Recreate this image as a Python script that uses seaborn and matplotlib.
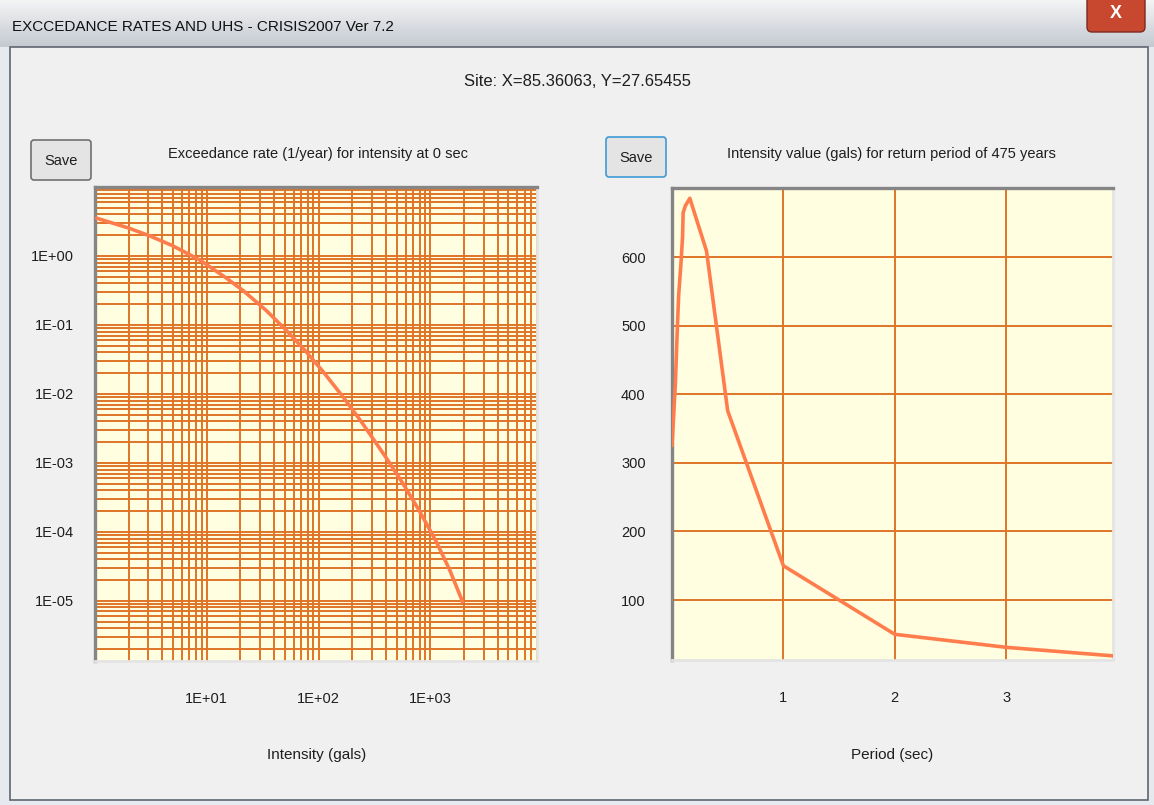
import matplotlib
matplotlib.use("Agg")
import matplotlib.pyplot as plt
import numpy as np
import seaborn as sns
from matplotlib.colors import LinearSegmentedColormap
from matplotlib.patches import FancyBboxPatch, Rectangle
from matplotlib.ticker import FixedLocator, LogLocator, NullFormatter

W, H = 1154, 805

# texts
window_title = "EXCCEDANCE RATES AND UHS - CRISIS2007 Ver 7.2"
site_text = "Site: X=85.36063, Y=27.65455"
rate_title = "Exceedance rate (1/year) for intensity at 0 sec"
uhs_title = "Intensity value (gals) for return period of 475 years"
rate_xlabel = "Intensity (gals)"
uhs_xlabel = "Period (sec)"
button_text = "Save"

# hazard curve at T = 0 sec
intensity = [1.035, 2.0, 3.1, 4.94, 8.66, 14.6, 21.1, 33.9, 51.5, 77.0, 109.5,
             165.0, 245.0, 402.0, 568.0, 793.0, 1118.0, 1490.0, 1942.0]
exc_rate = [3.53, 2.54, 1.95, 1.41, 0.875, 0.492, 0.316, 0.163, 0.0834, 0.0413,
            0.0211, 0.00912, 0.00382, 0.00119, 5.03e-4, 2.05e-4, 7.45e-5, 2.8e-5, 9.7e-6]

# uniform hazard spectrum, 475 years
period = [0.0, 0.015, 0.03, 0.04, 0.05, 0.06, 0.08, 0.095, 0.10, 0.12, 0.16,
          0.31, 0.50, 1.0, 2.0, 3.0, 4.0]
sa_gals = [325, 370, 415, 460, 505, 545, 590, 630, 665, 675, 686,
           609, 376, 150, 50, 31, 18]

# ticks
rate_xticks = [1, 10, 100, 1000]
rate_xticklabels = ["", "1E+01", "1E+02", "1E+03"]
rate_yticks = [10, 1, 0.1, 0.01, 1e-3, 1e-4, 1e-5, 1e-6]
rate_yticklabels = ["", "1E+00", "1E-01", "1E-02", "1E-03", "1E-04", "1E-05", ""]
uhs_xticks = [1, 2, 3]
uhs_yticks = [100, 200, 300, 400, 500, 600]

sns.set_theme(style="white")
plt.rcParams["font.family"] = ["Liberation Sans", "DejaVu Sans"]

grid_color = "#DF7428"
curve_color = "#FF7D4D"
plot_bg = "#FFFEE0"
txt = "#1E1E1E"

fig = plt.figure(figsize=(W / 100, H / 100), dpi=100)
fig.patch.set_facecolor("#E6E9EE")

# window chrome, pixel coordinates
bg = fig.add_axes([0, 0, 1, 1])
bg.set_zorder(-5)
bg.axis("off")
bar = LinearSegmentedColormap.from_list("bar", ["#F4F4F4", "#DCDFE3", "#C4CAD2"])
bg.imshow(np.linspace(0, 1, 60).reshape(-1, 1), extent=[0, W, 47, 0],
          cmap=bar, aspect="auto")
bg.set_xlim(0, W)
bg.set_ylim(H, 0)
bg.add_patch(Rectangle((10, 47), 1138, 753, facecolor="#F0F0F0",
                       edgecolor="#5F6670", lw=1.2))
bg.text(12, 27, window_title, fontsize=11, color="#111111",
        va="center", ha="left")
bg.add_patch(FancyBboxPatch((1087, -6), 58, 38,
                            boxstyle="round,pad=0,rounding_size=5",
                            facecolor="#C8472F", edgecolor="#7A2A20", lw=1))
bg.text(1116, 14, "X", fontsize=13, fontweight="bold", color="white",
        ha="center", va="center")

bg.text(577, 81, site_text, fontsize=12, color=txt, ha="center", va="center")
for (x0, y0, ec) in [(31, 140, "#707070"), (606, 137, "#3C9BD6")]:
    bg.add_patch(FancyBboxPatch((x0, y0), 60, 40,
                                boxstyle="round,pad=0,rounding_size=3",
                                facecolor="#E4E4E4", edgecolor=ec, lw=1.2))
    bg.text(x0 + 30, y0 + 21, button_text, fontsize=10.5, color=txt,
            ha="center", va="center")
bg.text(318, 154, rate_title, fontsize=10.5, color=txt, ha="center", va="center")
bg.text(891, 154, uhs_title, fontsize=10.5, color=txt, ha="center", va="center")
bg.text(317, 755, rate_xlabel, fontsize=11, color=txt, ha="center", va="center")
bg.text(892, 755, uhs_xlabel, fontsize=11, color=txt, ha="center", va="center")


def frame(ax):
    ax.set_facecolor(plot_bg)
    for side in ["left", "top"]:
        ax.spines[side].set_color("#858585")
        ax.spines[side].set_linewidth(2.4)
    for side in ["right", "bottom"]:
        ax.spines[side].set_color("#E4E4E4")
        ax.spines[side].set_linewidth(2)
    ax.set_xlabel("")
    ax.set_ylabel("")


# left: exceedance rate curve
ax1 = fig.add_axes([95 / W, 1 - 661 / H, 442 / W, 474 / H])
ax1.set_xscale("log")
ax1.set_yscale("log")
sns.lineplot(x=intensity, y=exc_rate, ax=ax1, color=curve_color,
             linewidth=2.6, sort=False, zorder=3)
ax1.set_xlim(1, 9000)
ax1.set_ylim(1.34e-6, 10)
ax1.xaxis.set_major_locator(FixedLocator(rate_xticks))
ax1.set_xticklabels(rate_xticklabels)
ax1.yaxis.set_major_locator(FixedLocator(rate_yticks))
ax1.set_yticklabels(rate_yticklabels)
for axis in [ax1.xaxis, ax1.yaxis]:
    axis.set_minor_locator(LogLocator(base=10, subs=np.arange(2, 10), numticks=30))
    axis.set_minor_formatter(NullFormatter())
ax1.grid(True, which="both", color=grid_color, linewidth=1.4)
ax1.tick_params(which="both", length=0, labelsize=10.5, colors=txt)
ax1.tick_params(axis="x", pad=22)
ax1.tick_params(axis="y", pad=15)
frame(ax1)

# right: uniform hazard spectrum
ax2 = fig.add_axes([672 / W, 1 - 660 / H, 441 / W, 472 / H])
sns.lineplot(x=period, y=sa_gals, ax=ax2, color=curve_color,
             linewidth=2.6, sort=False, zorder=3)
ax2.set_xlim(0, 3.96)
ax2.set_ylim(12.5, 701)
ax2.set_xticks(uhs_xticks)
ax2.set_xticklabels([str(v) for v in uhs_xticks])
ax2.set_yticks(uhs_yticks)
ax2.set_yticklabels([str(v) for v in uhs_yticks])
ax2.grid(True, color=grid_color, linewidth=1.4)
ax2.tick_params(length=0, labelsize=10.5, colors=txt)
ax2.tick_params(axis="x", pad=22)
ax2.tick_params(axis="y", pad=19)
frame(ax2)

fig.savefig("out.png", dpi=100, facecolor=fig.get_facecolor())
